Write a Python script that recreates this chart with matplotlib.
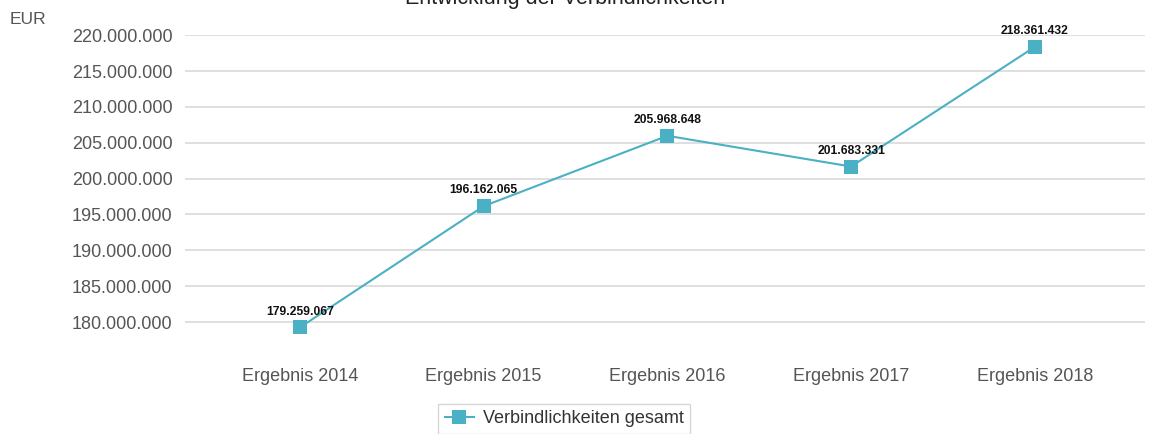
import matplotlib
matplotlib.use("Agg")
import matplotlib.pyplot as plt
from matplotlib.ticker import FuncFormatter

plt.rcParams['font.family'] = ['Liberation Sans', 'DejaVu Sans']

categories = ["Ergebnis 2014", "Ergebnis 2015", "Ergebnis 2016", "Ergebnis 2017", "Ergebnis 2018"]
values = [179259067, 196162065, 205968648, 201683331, 218361432]
yticks = [180000000, 185000000, 190000000, 195000000, 200000000, 205000000, 210000000, 215000000, 220000000]
series_name = "Verbindlichkeiten gesamt"
title = "Entwicklung der Verbindlichkeiten"
color = "#4AB1C5"

fig = plt.figure(figsize=(11.49, 4.34), dpi=100)
ax = fig.add_axes([0.161, 0.2166, 0.8355, 0.7024])

x = list(range(len(categories)))
ax.plot(x, values, color=color, lw=1.5, marker='s', markersize=10.5,
        markeredgewidth=0, label=series_name, zorder=3)

def fmt(v):
    return f"{int(round(v)):,}".replace(",", ".")

for xi, v in zip(x, values):
    ax.annotate(fmt(v), (xi, v), xytext=(0, 7), textcoords='offset points',
                ha='center', va='bottom', fontsize=8.7, fontweight='bold', color='#111111', zorder=4)

ax.set_xlim(-0.626, 4.6)
ax.set_ylim(177500000, 220000000)
ax.set_yticks(yticks)
ax.yaxis.set_major_formatter(FuncFormatter(lambda v, p: fmt(v)))
ax.set_xticks(x)
ax.set_xticklabels(categories)
ax.grid(axis='y', color='#d9d9d9', lw=1.2)
ax.set_axisbelow(True)
for s in ax.spines.values():
    s.set_visible(False)
ax.tick_params(axis='y', length=0, labelsize=13, labelcolor='#555555', pad=9)
ax.tick_params(axis='x', length=0, labelsize=13, labelcolor='#555555', pad=20)

fig.text(0.0087, 0.955, "EUR", fontsize=12.5, color='#555555', ha='left', va='center')
fig.text(0.492, 1.003, title, fontsize=15.5, color='#222222', ha='center', va='center')

leg = fig.legend(loc='center', bbox_to_anchor=(0.491, 0.035), frameon=True, fontsize=13,
                 handlelength=1.6, handletextpad=0.5, borderpad=0.35, fancybox=False,
                 labelcolor='#333333')
leg.get_frame().set_edgecolor('#cccccc')
leg.get_frame().set_linewidth(1.0)

fig.savefig("out.png", dpi=100)
